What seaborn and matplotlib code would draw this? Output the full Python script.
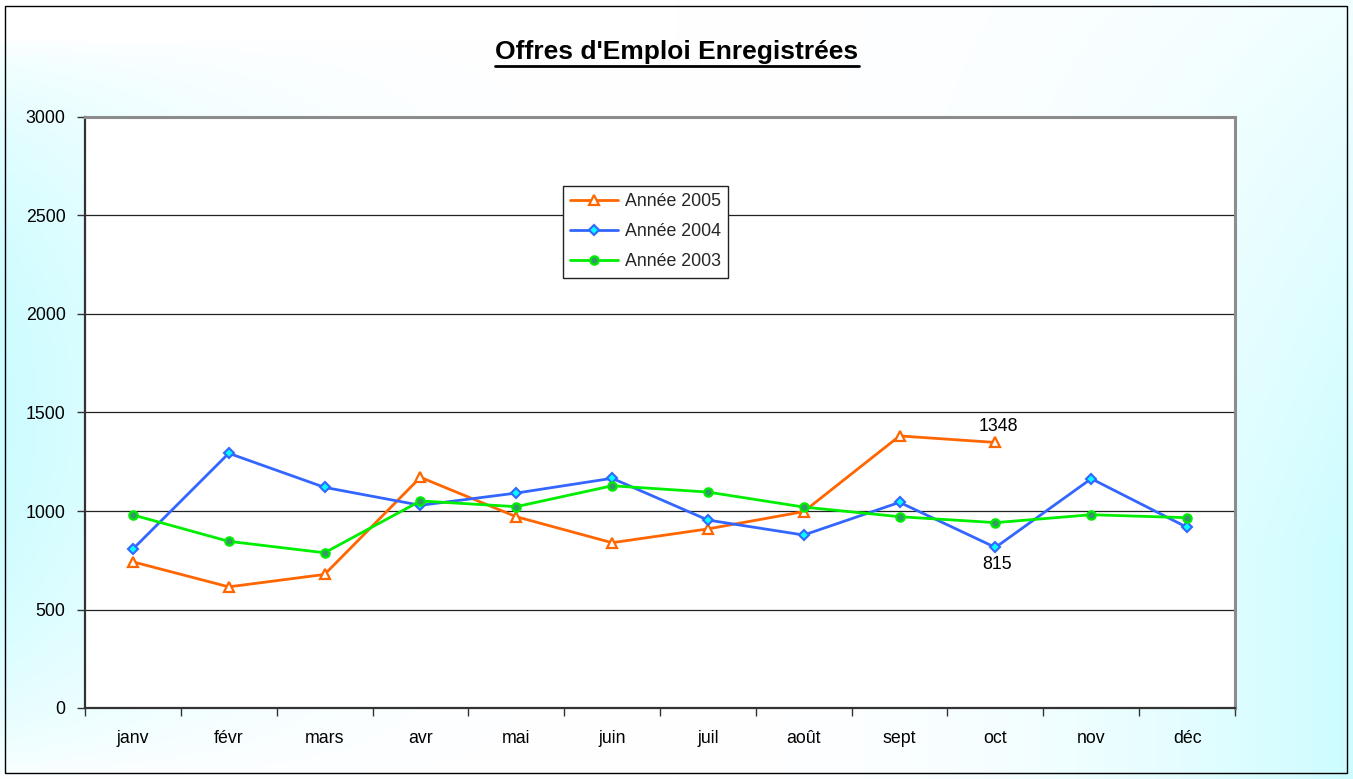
import numpy as np
import pandas as pd
import matplotlib
matplotlib.use("Agg")
import matplotlib.pyplot as plt
import seaborn as sns
from matplotlib.lines import Line2D
from matplotlib.patches import Rectangle

months = ["janv", "févr", "mars", "avr", "mai", "juin", "juil", "août", "sept", "oct", "nov", "déc"]
y2005 = [742, 615, 678, 1171, 971, 839, 909, 997, 1381, 1348, np.nan, np.nan]
y2004 = [807, 1293, 1120, 1029, 1091, 1166, 954, 878, 1044, 815, 1164, 917]
y2003 = [980, 846, 788, 1051, 1022, 1128, 1096, 1020, 971, 941, 981, 966]
yticks = [0, 500, 1000, 1500, 2000, 2500, 3000]
title = "Offres d'Emploi Enregistrées"

sns.set_theme(style="white")
plt.rcParams['font.family'] = ['Liberation Sans', 'DejaVu Sans']

W, H = 1353, 779
fig = plt.figure(figsize=(W / 100, H / 100), dpi=100)

# background gradient
bg = fig.add_axes([0, 0, 1, 1], zorder=-10)
xx = np.linspace(0, 1, 400)
yy = np.linspace(0, 1, 240)
X, Y = np.meshgrid(xx, yy)
t = np.clip(np.abs(X - 0.5) * 2, 0, 1) ** 2.2
vert_left = np.clip(np.sin(np.pi * np.clip((Y - 0.05) / 0.95, 0, 1)) ** 0.6, 0, 1)
vert_right = np.clip(0.3 + 1.0 * Y, 0, 1)
vert = np.where(X < 0.5, vert_left, vert_right)
f = np.clip(t * vert, 0, 1)
white = np.array([1.0, 1.0, 1.0])
cyan = np.array([0.80, 0.99, 1.0])
img = white[None, None, :] * (1 - f[..., None]) + cyan[None, None, :] * f[..., None]
bg.imshow(img, aspect="auto", extent=[0, 1, 0, 1], origin="upper")
bg.set_axis_off()
bg.add_patch(Rectangle((5 / W, 6 / H), 1342 / W, 767 / H, fill=False, edgecolor="black",
                       linewidth=1.0, transform=bg.transAxes))

ax = fig.add_axes([85 / W, 1 - 708 / H, (1235 - 85) / W, (708 - 117) / H])
ax.set_facecolor("white")

df = pd.DataFrame({"mois": np.arange(12), "2005": y2005, "2004": y2004, "2003": y2003})

sns.lineplot(data=df, x="mois", y="2005", ax=ax, color="#FF6600", lw=2.0,
             marker="^", markersize=6.5, markerfacecolor="white", markeredgecolor="#FF6600",
             markeredgewidth=1.6, label="Année 2005", zorder=3)
sns.lineplot(data=df, x="mois", y="2004", ax=ax, color="#3366FF", lw=2.0,
             marker="D", markersize=5, markerfacecolor="#00FFFF", markeredgecolor="#3366FF",
             markeredgewidth=1.5, label="Année 2004", zorder=4)
sns.lineplot(data=df, x="mois", y="2003", ax=ax, color="#00EE00", lw=2.0,
             marker="o", markersize=6, markerfacecolor="#339966", markeredgecolor="#00EE00",
             markeredgewidth=1.6, label="Année 2003", zorder=5)

ax.set_xlim(-0.5, 11.5)
ax.set_ylim(0, 3000)
ax.set_yticks(yticks)
ax.set_yticklabels([str(v) for v in yticks], fontsize=12.8, color="black")
ax.set_xticks(np.arange(12))
ax.set_xticklabels(months, fontsize=12.8, color="black")
ax.set_xticks(np.arange(-0.5, 12, 1), minor=True)
ax.tick_params(axis="x", which="major", length=0, pad=16)
ax.tick_params(axis="x", which="minor", length=6, width=1, color="#333333", direction="out", bottom=True)
ax.tick_params(axis="y", which="major", length=6, width=1, color="#333333", direction="out", left=True, pad=8)
ax.set_xlabel("")
ax.set_ylabel("")
ax.grid(axis="y", color="#222222", linewidth=0.9)
ax.set_axisbelow(True)

for s in ["left", "bottom"]:
    ax.spines[s].set_color("#333333")
    ax.spines[s].set_linewidth(1.6)
for s in ["top", "right"]:
    ax.spines[s].set_color("#8c8c8c")
    ax.spines[s].set_linewidth(2.2)

# data labels
ax.annotate("1348", (9, y2005[9]), xytext=(2, 5), textcoords="offset points",
            ha="center", va="bottom", fontsize=12.8, color="black")
ax.annotate("815", (9, y2004[9]), xytext=(1, -6), textcoords="offset points",
            ha="center", va="top", fontsize=12.8, color="black")

leg = ax.legend(loc="upper left", bbox_to_anchor=((563 - 85) / 1150, (708 - 186) / 591),
                frameon=True, fancybox=False, fontsize=12.8, handlelength=2.7,
                borderpad=0.42, labelspacing=0.72, handletextpad=0.35, borderaxespad=0)
leg.get_frame().set_edgecolor("#222222")
leg.get_frame().set_linewidth(1.0)
leg.get_frame().set_facecolor("white")
leg.get_frame().set_alpha(1)

tt = fig.text(677 / W, 1 - 52 / H, title, ha="center", va="center", fontsize=19,
              fontweight="bold", color="black")
fig.canvas.draw()
bb = tt.get_window_extent()
uy = bb.y0 - 2
fig.add_artist(Line2D([bb.x0 / W, bb.x1 / W], [uy / H, uy / H], color="black", linewidth=2.0,
                      transform=fig.transFigure))

fig.savefig("out.png", dpi=100)
